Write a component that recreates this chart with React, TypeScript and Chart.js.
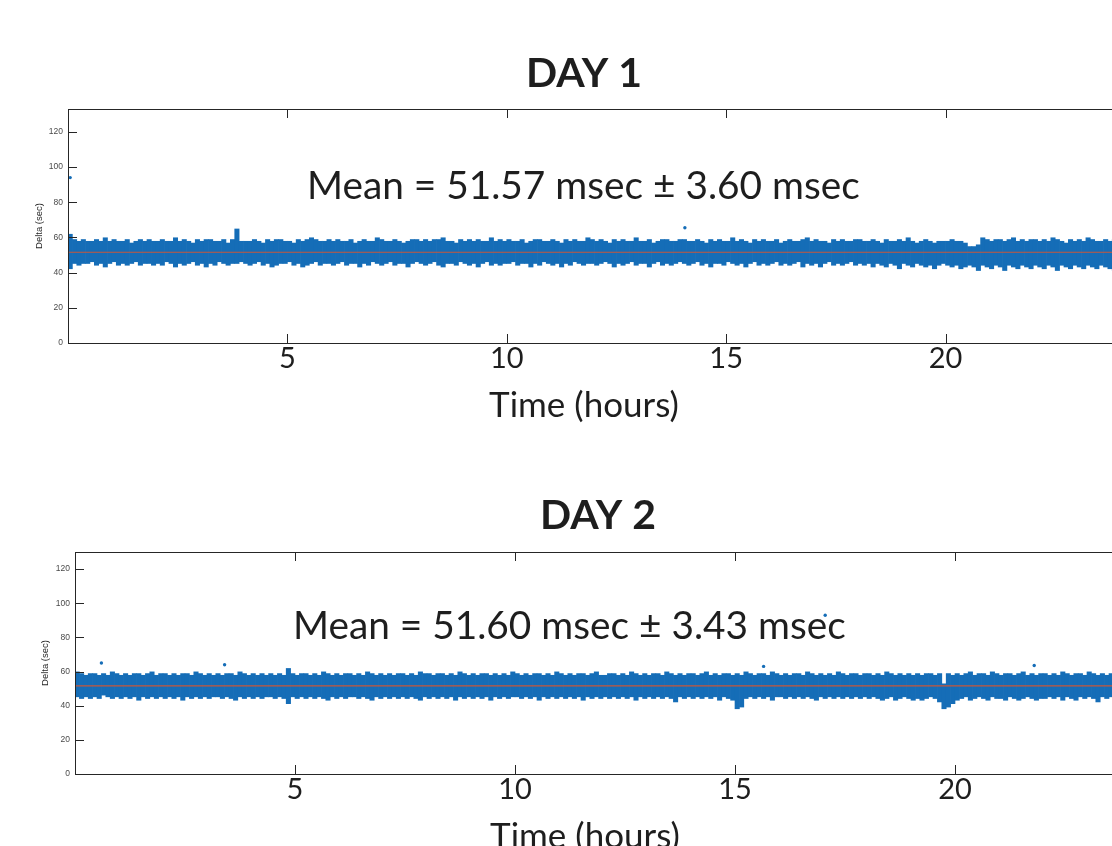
import React, { useEffect, useRef } from "react";
import { Chart, registerables } from "chart.js";

Chart.register(...registerables);

// ---------------- data ----------------
const BIN_HOURS = 0.1; // each band bin spans 6 minutes
const X_TICKS = [5, 10, 15, 20];
const Y_TICKS = [0, 20, 40, 60, 80, 100, 120];
const X_MIN = 0;
const X_MAX = 24;

// Day 1: per-bin upper / lower envelope of the Delta trace (sec)
const DAY1_HIGH = [
  62, 59, 58, 59, 58, 58, 59, 58, 60, 58, 59, 58, 58, 59, 57, 58, 59, 58, 59, 58,
  58, 59, 58, 58, 60, 58, 59, 58, 57, 59, 58, 59, 59, 58, 58, 59, 57, 59, 65, 58,
  58, 58, 59, 58, 57, 59, 58, 59, 59, 58, 58, 57, 59, 58, 59, 60, 59, 58, 58, 59,
  58, 59, 58, 58, 59, 57, 58, 59, 58, 58, 60, 59, 58, 58, 59, 58, 57, 58, 59, 59,
  58, 59, 58, 59, 59, 60, 58, 58, 57, 59, 58, 59, 58, 59, 58, 58, 60, 58, 59, 58,
  59, 58, 58, 59, 57, 58, 59, 59, 58, 58, 59, 58, 57, 59, 58, 59, 58, 58, 60, 59,
  58, 59, 58, 57, 59, 58, 59, 58, 58, 60, 58, 58, 59, 57, 58, 59, 59, 58, 58, 59,
  59, 58, 58, 59, 58, 57, 59, 58, 59, 58, 58, 60, 58, 59, 58, 57, 59, 58, 59, 58,
  58, 59, 57, 58, 59, 58, 58, 59, 60, 58, 59, 58, 58, 57, 59, 58, 59, 58, 58, 59,
  59, 58, 58, 59, 58, 57, 59, 58, 58, 59, 58, 60, 58, 57, 58, 59, 58, 57, 58, 58,
  58, 59, 58, 58, 57, 55, 55, 56, 60, 59, 58, 59, 59, 58, 59, 60, 58, 59, 58, 59,
  59, 58, 59, 58, 60, 59, 58, 57, 59, 58, 59, 58, 60, 59, 58, 58, 59, 58, 59, 60,
];
const DAY1_LOW = [
  42, 45, 44, 45, 45, 46, 44, 45, 43, 45, 46, 44, 45, 44, 45, 46, 44, 45, 45, 44,
  45, 44, 46, 45, 43, 45, 44, 45, 46, 44, 45, 43, 45, 44, 46, 45, 44, 45, 45, 46,
  45, 44, 45, 46, 44, 45, 43, 44, 45, 45, 46, 44, 45, 43, 44, 45, 46, 44, 45, 45,
  44, 45, 46, 44, 45, 45, 43, 45, 44, 46, 45, 44, 45, 46, 44, 45, 45, 43, 45, 46,
  45, 44, 45, 46, 44, 43, 45, 45, 44, 46, 45, 44, 45, 43, 45, 46, 44, 45, 44, 45,
  45, 46, 44, 45, 45, 43, 45, 44, 46, 45, 44, 45, 43, 45, 44, 46, 45, 44, 45, 45,
  44, 45, 46, 45, 43, 45, 44, 45, 46, 44, 45, 45, 43, 45, 46, 44, 45, 44, 45, 46,
  45, 44, 45, 46, 44, 45, 43, 45, 45, 44, 46, 45, 44, 45, 43, 45, 46, 44, 45, 44,
  45, 46, 44, 45, 44, 45, 46, 43, 45, 44, 45, 43, 45, 46, 44, 45, 44, 45, 46, 44,
  45, 44, 45, 43, 45, 44, 43, 45, 44, 42, 45, 44, 43, 45, 44, 43, 44, 42, 44, 45,
  44, 43, 44, 42, 43, 44, 43, 41, 44, 43, 42, 44, 43, 41, 44, 43, 42, 44, 43, 42,
  44, 43, 42, 44, 43, 41, 44, 43, 42, 44, 43, 42, 44, 43, 42, 44, 43, 42, 41, 44,
];
const DAY1_OUTLIER_T = [0.05, 14.06];
const DAY1_OUTLIER_V = [94, 65.5];
const DAY1_MEAN = 51.57;
const DAY1_SD = 3.6;
const DAY1_Y_MAX = 133;

// Day 2
const DAY2_HIGH = [
  60, 59, 58, 59, 59, 58, 59, 58, 60, 59, 58, 59, 58, 59, 59, 58, 59, 60, 58, 59,
  59, 58, 59, 58, 59, 59, 58, 60, 59, 58, 59, 58, 59, 58, 59, 59, 58, 60, 59, 58,
  59, 58, 59, 58, 59, 58, 59, 58, 62, 59, 58, 59, 59, 58, 59, 58, 60, 59, 58, 59,
  58, 59, 59, 58, 59, 58, 60, 59, 58, 59, 58, 59, 58, 59, 59, 58, 59, 58, 60, 59,
  59, 58, 59, 59, 58, 59, 58, 60, 59, 58, 59, 58, 59, 59, 58, 59, 58, 59, 58, 60,
  59, 58, 59, 58, 59, 59, 58, 59, 58, 60, 59, 58, 59, 58, 59, 59, 58, 59, 60, 58,
  58, 59, 59, 58, 59, 58, 60, 59, 58, 59, 58, 59, 59, 58, 60, 59, 58, 59, 58, 59,
  59, 58, 59, 60, 58, 59, 58, 59, 59, 58, 59, 58, 60, 59, 58, 59, 59, 58, 60, 59,
  58, 59, 58, 59, 59, 58, 60, 59, 58, 59, 58, 59, 58, 60, 59, 58, 59, 59, 58, 59,
  59, 58, 59, 58, 60, 59, 58, 59, 58, 59, 58, 59, 58, 59, 59, 58, 59, 53, 59, 58,
  59, 58, 59, 60, 58, 59, 59, 58, 60, 59, 58, 59, 59, 58, 59, 60, 58, 59, 58, 59,
  59, 58, 59, 58, 60, 59, 58, 59, 59, 58, 60, 59, 58, 59, 58, 59, 60, 59, 58, 59,
];
const DAY2_LOW = [
  45, 44, 45, 44, 45, 44, 46, 45, 44, 45, 44, 45, 44, 45, 43, 45, 44, 45, 44, 45,
  44, 45, 44, 45, 43, 45, 44, 45, 44, 45, 44, 45, 45, 44, 45, 44, 43, 45, 44, 45,
  44, 45, 44, 45, 45, 44, 45, 44, 41, 45, 44, 45, 44, 45, 44, 45, 44, 43, 45, 44,
  45, 44, 45, 45, 44, 45, 44, 43, 45, 44, 45, 44, 45, 44, 45, 44, 45, 44, 43, 45,
  44, 45, 44, 45, 44, 45, 43, 45, 44, 45, 44, 45, 44, 45, 43, 45, 44, 45, 44, 45,
  45, 44, 45, 44, 45, 43, 45, 44, 45, 44, 45, 44, 45, 44, 45, 43, 45, 44, 45, 44,
  45, 44, 45, 44, 45, 44, 45, 43, 45, 44, 45, 44, 45, 44, 45, 44, 42, 45, 44, 45,
  44, 45, 44, 45, 44, 45, 43, 45, 44, 43, 38, 39, 44, 45, 44, 45, 44, 45, 43, 45,
  45, 44, 45, 44, 45, 44, 45, 44, 43, 45, 44, 45, 44, 45, 44, 45, 44, 45, 44, 45,
  44, 45, 44, 43, 44, 45, 43, 44, 45, 44, 43, 44, 43, 44, 45, 44, 42, 38, 39, 41,
  43, 44, 45, 43, 44, 45, 44, 43, 45, 44, 44, 43, 45, 44, 43, 44, 45, 44, 43, 44,
  44, 45, 44, 45, 43, 45, 44, 43, 45, 44, 45, 44, 42, 45, 44, 45, 44, 45, 44, 43,
];
const DAY2_OUTLIER_T = [0.6, 3.4, 15.65, 17.05, 21.8];
const DAY2_OUTLIER_V = [65, 64, 63, 93, 63.5];
const DAY2_MEAN = 51.6;
const DAY2_SD = 3.43;
const DAY2_Y_MAX = 130;

// ---------------- styling ----------------
const BLUE = "#156db7";
const MEAN_COLOR = "#c8573a";
const AXIS_COLOR = "#262626";
const TEXT_COLOR = "#1e1e1e";

type Layout = {
  width: number;
  height: number;
  yAxisWidth: number;
  padRight: number;
  padTop: number;
  padBottom: number;
  xAxisHeight: number;
};
type TextPos = {
  titleX: number;
  titleBase: number;
  meanX: number;
  meanBase: number;
  xTitleX: number;
  xTitleBase: number;
  yTitleX: number;
  yTitleY: number;
};

function makeDecor(title: string, meanLabel: string, tp: TextPos) {
  return {
    id: "decor",
    afterDraw(chart: any) {
      const ctx: CanvasRenderingContext2D = chart.ctx;
      const a = chart.chartArea;
      const xs = chart.scales.x;
      const ys = chart.scales.y;
      ctx.save();
      ctx.strokeStyle = AXIS_COLOR;
      ctx.lineWidth = 1;
      ctx.strokeRect(Math.round(a.left) + 0.5, Math.round(a.top) + 0.5, a.right - a.left, a.bottom - a.top);
      ctx.beginPath();
      X_TICKS.forEach((v) => {
        const px = Math.round(xs.getPixelForValue(v)) + 0.5;
        ctx.moveTo(px, a.bottom);
        ctx.lineTo(px, a.bottom - 9);
        ctx.moveTo(px, a.top);
        ctx.lineTo(px, a.top + 9);
      });
      Y_TICKS.forEach((v) => {
        const py = Math.round(ys.getPixelForValue(v)) + 0.5;
        ctx.moveTo(a.left, py);
        ctx.lineTo(a.left + 9, py);
      });
      ctx.stroke();

      ctx.fillStyle = TEXT_COLOR;
      ctx.textBaseline = "alphabetic";
      ctx.textAlign = "center";
      ctx.font = "bold 41px Lato";
      ctx.fillText(title, tp.titleX, tp.titleBase);

      ctx.textAlign = "left";
      ctx.font = "38.8px Lato";
      ctx.fillText(meanLabel, tp.meanX, tp.meanBase);

      ctx.textAlign = "center";
      ctx.font = "35px Lato";
      ctx.fillText("Time (hours)", tp.xTitleX, tp.xTitleBase);

      ctx.save();
      ctx.translate(tp.yTitleX, tp.yTitleY);
      ctx.rotate(-Math.PI / 2);
      ctx.font = '9.5px "Liberation Sans"';
      ctx.fillStyle = AXIS_COLOR;
      ctx.textBaseline = "middle";
      ctx.textAlign = "center";
      ctx.fillText("Delta (sec)", 0, 0);
      ctx.restore();
      ctx.restore();
    },
  };
}

function makeConfig(
  high: number[],
  low: number[],
  outT: number[],
  outV: number[],
  mean: number,
  sd: number,
  yMax: number,
  title: string,
  lay: Layout,
  tp: TextPos
): any {
  const bars = high.map((h, i) => ({ x: (i + 0.5) * BIN_HOURS, y: [low[i], h] }));
  const outliers = outT.map((t, i) => ({ x: t, y: outV[i] }));
  const meanLabel = `Mean = ${mean.toFixed(2)} msec ± ${sd.toFixed(2)} msec`;
  return {
    type: "bar",
    data: {
      datasets: [
        {
          type: "line",
          data: [
            { x: X_MIN, y: mean },
            { x: X_MAX, y: mean },
          ],
          borderColor: MEAN_COLOR,
          borderWidth: 1.2,
          pointRadius: 0,
          order: 0,
        },
        {
          type: "scatter",
          data: outliers,
          backgroundColor: BLUE,
          borderWidth: 0,
          pointRadius: 1.7,
          order: 1,
        },
        {
          type: "bar",
          data: bars,
          backgroundColor: BLUE,
          borderWidth: 0,
          barPercentage: 1.15,
          categoryPercentage: 1,
          order: 2,
        },
      ],
    },
    options: {
      responsive: false,
      animation: false,
      layout: {
        padding: { left: 0, right: lay.padRight, top: lay.padTop, bottom: lay.padBottom },
      },
      plugins: {
        legend: { display: false },
        tooltip: { enabled: false },
        title: { display: false },
      },
      scales: {
        x: {
          type: "linear",
          min: X_MIN,
          max: X_MAX,
          offset: false,
          grid: { display: false, drawTicks: false, offset: false },
          border: { display: false },
          ticks: {
            autoSkip: false,
            maxRotation: 0,
            padding: 1,
            color: TEXT_COLOR,
            font: { family: "Lato", size: 29, lineHeight: 1 },
          },
          afterBuildTicks: (s: any) => {
            s.ticks = X_TICKS.map((v) => ({ value: v }));
          },
          afterFit: (s: any) => {
            s.height = lay.xAxisHeight;
          },
        },
        y: {
          min: 0,
          max: yMax,
          grid: { display: false, drawTicks: false },
          border: { display: false },
          ticks: {
            autoSkip: false,
            padding: 5,
            color: "#4a4a4a",
            font: { family: "Liberation Sans", size: 8.5 },
          },
          afterBuildTicks: (s: any) => {
            s.ticks = Y_TICKS.map((v) => ({ value: v }));
          },
          afterFit: (s: any) => {
            s.width = lay.yAxisWidth;
          },
        },
      },
    },
    plugins: [makeDecor(title, meanLabel, tp)],
  };
}

const LAYOUT1: Layout = { width: 1150, height: 440, yAxisWidth: 68, padRight: 29, padTop: 109, padBottom: 57, xAxisHeight: 40 };
const TEXT1: TextPos = { titleX: 584, titleBase: 87, meanX: 307, meanBase: 199, xTitleX: 584, xTitleBase: 417, yTitleX: 39, yTitleY: 226 };
const LAYOUT2: Layout = { width: 1150, height: 420, yAxisWidth: 75, padRight: 19, padTop: 112, padBottom: 46, xAxisHeight: 40 };
const TEXT2: TextPos = { titleX: 598, titleBase: 89, meanX: 293, meanBase: 199, xTitleX: 585, xTitleBase: 408, yTitleX: 45, yTitleY: 223 };

export default function App() {
  const c1 = useRef<HTMLCanvasElement>(null);
  const c2 = useRef<HTMLCanvasElement>(null);

  useEffect(() => {
    const ch1 = new Chart(
      c1.current as HTMLCanvasElement,
      makeConfig(DAY1_HIGH, DAY1_LOW, DAY1_OUTLIER_T, DAY1_OUTLIER_V, DAY1_MEAN, DAY1_SD, DAY1_Y_MAX, "DAY 1", LAYOUT1, TEXT1)
    );
    const ch2 = new Chart(
      c2.current as HTMLCanvasElement,
      makeConfig(DAY2_HIGH, DAY2_LOW, DAY2_OUTLIER_T, DAY2_OUTLIER_V, DAY2_MEAN, DAY2_SD, DAY2_Y_MAX, "DAY 2", LAYOUT2, TEXT2)
    );
    return () => {
      ch1.destroy();
      ch2.destroy();
    };
  }, []);

  return (
    <div
      style={{
        position: "fixed",
        left: 0,
        top: 0,
        width: 1112,
        height: 846,
        overflow: "hidden",
        background: "#ffffff",
      }}
    >
      <canvas
        ref={c1}
        width={LAYOUT1.width}
        height={LAYOUT1.height}
        style={{ position: "absolute", left: 0, top: 0, width: LAYOUT1.width, height: LAYOUT1.height }}
      />
      <canvas
        ref={c2}
        width={LAYOUT2.width}
        height={LAYOUT2.height}
        style={{ position: "absolute", left: 0, top: 440, width: LAYOUT2.width, height: LAYOUT2.height }}
      />
    </div>
  );
}
